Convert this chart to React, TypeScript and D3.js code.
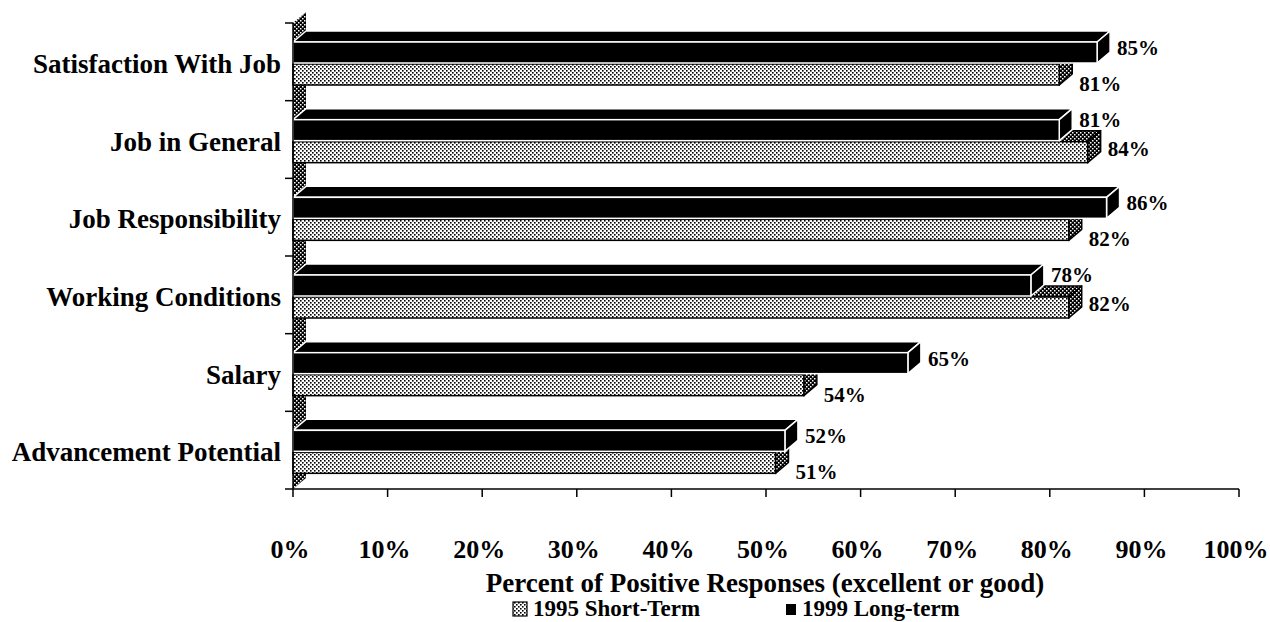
import React from "react";
import * as d3 from "d3";

const categories = [
  "Satisfaction With Job",
  "Job in General",
  "Job Responsibility",
  "Working Conditions",
  "Salary",
  "Advancement Potential",
];
const longTerm1999 = [85, 81, 86, 78, 65, 52];
const shortTerm1995 = [81, 84, 82, 82, 54, 51];
const xTicks = [0, 10, 20, 30, 40, 50, 60, 70, 80, 90, 100];
const seriesNames = ["1995 Short-Term", "1999 Long-term"];
const axisTitle = "Percent of Positive Responses (excellent or good)";

const W = 1270;
const H = 622;
const FONT = "'Liberation Serif', 'Times New Roman', serif";

export default function App() {
  const x = d3.scaleLinear().domain([0, 100]).range([293, 1239]);
  const y = d3.scaleBand<string>().domain(categories).range([23, 489]).padding(0);
  const bw = y.bandwidth();
  const DX = 13;
  const DY = 11;
  const x0 = x(0);

  const poly = (pts: [number, number][]) => pts.map((p) => p.join(",")).join(" ");

  const bar = (
    v: number,
    top: number,
    bottom: number,
    front: string,
    side: string,
    topFill: string,
    stroke: string,
    key: string
  ) => {
    const xe = x(v);
    return (
      <g key={key}>
        <polygon
          points={poly([
            [x0, top],
            [x0 + DX, top - DY],
            [xe + DX, top - DY],
            [xe, top],
          ])}
          fill={topFill}
          stroke={stroke}
          strokeWidth={1.5}
          strokeLinejoin="round"
        />
        <polygon
          points={poly([
            [xe, top],
            [xe + DX, top - DY],
            [xe + DX, bottom - DY],
            [xe, bottom],
          ])}
          fill={side}
          stroke={stroke}
          strokeWidth={1.5}
          strokeLinejoin="round"
        />
        <rect x={x0} y={top} width={xe - x0} height={bottom - top} fill={front} stroke={stroke} strokeWidth={1.5} />
      </g>
    );
  };

  return (
    <svg width={W} height={H} style={{ position: "absolute", left: 0, top: 0, background: "#fff" }} fontFamily={FONT}>
      <defs>
        <pattern id="light" width="4" height="4" patternUnits="userSpaceOnUse">
          <rect width="4" height="4" fill="#fff" />
          <rect x="0" y="0" width="1.6" height="1.6" fill="#000" />
          <rect x="2" y="2" width="1.6" height="1.6" fill="#000" />
        </pattern>
        <pattern id="dark" width="4" height="4" patternUnits="userSpaceOnUse">
          <rect width="4" height="4" fill="#000" />
          <rect x="0" y="0" width="1.5" height="1.5" fill="#fff" />
          <rect x="2" y="2" width="1.5" height="1.5" fill="#fff" />
        </pattern>
      </defs>

      {/* left wall */}
      <polygon
        points={poly([
          [x0, y.range()[0]],
          [x0 + DX, y.range()[0] - DY],
          [x0 + DX, y.range()[1] - DY],
          [x0, y.range()[1]],
        ])}
        fill="url(#dark)"
      />

      {categories.map((c, i) => {
        const b = y(c)!;
        const bTop = b + 19;
        const bBot = b + 40;
        const dTop = b + 41;
        const dBot = b + 62;
        const dotLonger = shortTerm1995[i] > longTerm1999[i];
        return (
          <g key={c}>
            {bar(shortTerm1995[i], dTop, dBot, "url(#light)", "url(#dark)", "url(#dark)", "#000", "s" + i)}
            {bar(longTerm1999[i], bTop, bBot, "#000", "#000", "#000", "#fff", "l" + i)}
            <text
              x={x(longTerm1999[i]) + DX + 7}
              y={b + (dotLonger ? 19 : 25)}
              dominantBaseline="central"
              fontSize={21}
              fontWeight="bold"
            >
              {longTerm1999[i]}%
            </text>
            <text
              x={x(shortTerm1995[i]) + DX + 7}
              y={b + (dotLonger ? 48 : 61)}
              dominantBaseline="central"
              fontSize={21}
              fontWeight="bold"
            >
              {shortTerm1995[i]}%
            </text>
            <text
              x={281}
              y={b + bw / 2 + 2}
              textAnchor="end"
              dominantBaseline="central"
              fontSize={27}
              fontWeight="bold"
            >
              {c}
            </text>
          </g>
        );
      })}

      {/* y axis */}
      <line x1={x0} x2={x0} y1={y.range()[0]} y2={y.range()[1]} stroke="#000" strokeWidth={1.5} />
      {[...categories.map((c) => y(c)!), y.range()[1]].map((t, i) => (
        <line key={"yt" + i} x1={x0 - 8} x2={x0} y1={t} y2={t} stroke="#000" strokeWidth={1.5} />
      ))}

      {/* x axis */}
      <line x1={x0} x2={x(100)} y1={y.range()[1]} y2={y.range()[1]} stroke="#000" strokeWidth={1.5} />
      {xTicks.map((t) => (
        <g key={"xt" + t}>
          <line x1={x(t)} x2={x(t)} y1={y.range()[1]} y2={y.range()[1] + 8} stroke="#000" strokeWidth={1.5} />
          <text x={x(t) - 3} y={558} textAnchor="middle" fontSize={26} fontWeight="bold">
            {t}%
          </text>
        </g>
      ))}

      <text x={765} y={592} textAnchor="middle" fontSize={27} fontWeight="bold">
        {axisTitle}
      </text>

      {/* legend */}
      <rect x={513} y={602} width={14} height={14} fill="url(#light)" stroke="#000" strokeWidth={1.2} />
      <text x={533} y={616} fontSize={23} fontWeight="bold">
        {seriesNames[0]}
      </text>
      <rect x={786} y={604} width={10} height={11} fill="#000" />
      <text x={802} y={616} fontSize={23} fontWeight="bold">
        {seriesNames[1]}
      </text>
    </svg>
  );
}
